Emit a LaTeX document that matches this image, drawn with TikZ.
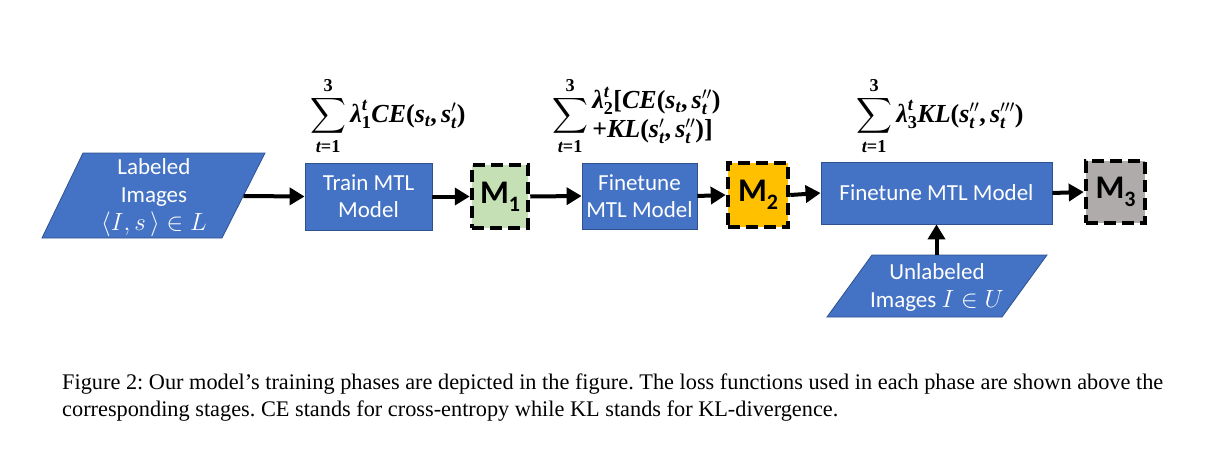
\documentclass[tikz,border=0pt]{standalone}
\usepackage{amsmath}
\usepackage{fontspec}
\setmainfont{Liberation Serif}
\newfontfamily\calibrifont{Carlito}
\usetikzlibrary{arrows.meta}
\definecolor{boxblue}{HTML}{4472C4}
\definecolor{boxedge}{HTML}{2F528F}
\definecolor{mgreen}{HTML}{C5E0B4}
\definecolor{morange}{HTML}{FFC000}
\definecolor{mgray}{HTML}{AFABAB}
\tikzset{
  blk/.style={draw=boxedge, line width=0.8pt, fill=boxblue, text=white,
    font=\calibrifont\fontsize{23}{27}\selectfont, align=center, inner sep=0pt},
  para/.style={draw=boxedge, line width=0.8pt, fill=boxblue},
  paratext/.style={text=white, font=\calibrifont\fontsize{23}{28}\selectfont, align=center, inner sep=0pt},
  mbox/.style={draw=black, line width=4.5pt, dash pattern=on 12pt off 6pt,
    font=\calibrifont\bfseries\fontsize{33}{33}\selectfont, inner sep=0pt},
  arr/.style={line width=4pt, -{Triangle[length=15pt,width=17pt]}},
  losstext/.style={font=\fontsize{26}{27}\selectfont, inner sep=0pt, anchor=west},
  captext/.style={font=\fontsize{22.3}{27}\selectfont, inner sep=0pt, anchor=base west}
}
\newcommand{\msub}[1]{M\raisebox{-8pt}{\fontsize{22}{22}\selectfont #1}}
\newcommand{\bi}[1]{\text{\bfseries\itshape #1}}
\newcommand{\bu}[1]{\text{\bfseries #1}}
\newcommand{\bsum}{\sum_{\bi{t}\bu{=1}}^{\bu{3}}}
\newcommand{\st}{\bi{s}_{\bi{t}}}
\begin{document}
\begin{tikzpicture}[x=1pt,y=-1pt]
\useasboundingbox (0,0) rectangle (1211,452);
% labeled images parallelogram
\draw[para] (83,153) -- (265,153) -- (222,238) -- (42,238) -- cycle;
\node[paratext] (lab) at (154,198) {Labeled\\Images\\$\langle I, s\,\rangle \in L$};
\coordinate (labR) at (243.5,196);
% boxes
\node[blk, minimum width=127pt, minimum height=67pt] (train) at (368.5,196.5) {Train MTL\\Model};
\node[mbox, fill=mgreen, minimum width=56pt, minimum height=63pt] (m1) at (500,196.5) {\msub{1}};
\node[blk, minimum width=115pt, minimum height=66pt] (fine1) at (639.5,196) {Finetune\\MTL Model};
\node[mbox, fill=morange, minimum width=60pt, minimum height=64pt] (m2) at (758,195) {\msub{2}};
\node[blk, minimum width=231pt, minimum height=62pt] (fine2) at (936.5,193) {Finetune MTL Model};
\node[mbox, fill=mgray, minimum width=59pt, minimum height=62pt] (m3) at (1115.5,192) {\msub{3}};
% unlabeled images
\draw[para] (872,255) -- (1047,255) -- (1002,317) -- (827,317) -- cycle;
\node[paratext] (unl) at (937,287) {Unlabeled\\Images $I \in U$};
\coordinate (unlT) at (936.5,255);
% arrows
\draw[arr] (labR) -- (train.west);
\draw[arr] (train.east) -- (m1.west);
\draw[arr] (m1.east) -- (fine1.west);
\draw[arr] (fine1.east) -- (m2.west);
\draw[arr] (m2.east) -- (fine2.west);
\draw[arr] (fine2.east) -- (m3.west);
\draw[arr] (unlT) -- (fine2.south);
% formulas
\node[losstext] (f1) at (310,116) {$\displaystyle\bsum\bi{λ}_{\bu{1}}^{\bi{t}}\bi{CE}\bu{(}\st\bu{,}\,\st^{\prime}\bu{)}$};
\node[losstext] (f2) at (552,116) {$\displaystyle\bsum\begin{array}{@{}l@{}}\bi{λ}_{\bu{2}}^{\bi{t}}\bu{[}\bi{CE}\bu{(}\st\bu{,}\,\st^{\prime\prime}\bu{)}\\[2pt] \bu{+}\bi{KL}\bu{(}\st^{\prime}\bu{,}\,\st^{\prime\prime}\bu{)]}\end{array}$};
\node[losstext] (f3) at (856,116) {$\displaystyle\bsum\bi{λ}_{\bu{3}}^{\bi{t}}\bi{KL}\bu{(}\st^{\prime\prime}\bu{,}\,\st^{\prime\prime\prime}\bu{)}$};
% caption
\node[captext] (cap1) at (62,389) {\frenchspacing Figure 2: Our model’s training phases are depicted in the figure. The loss functions used in each phase are shown above the};
\node[captext] (cap2) at (62,416) {\frenchspacing corresponding stages. CE stands for cross-entropy while KL stands for KL-divergence.};
\end{tikzpicture}
\end{document}
